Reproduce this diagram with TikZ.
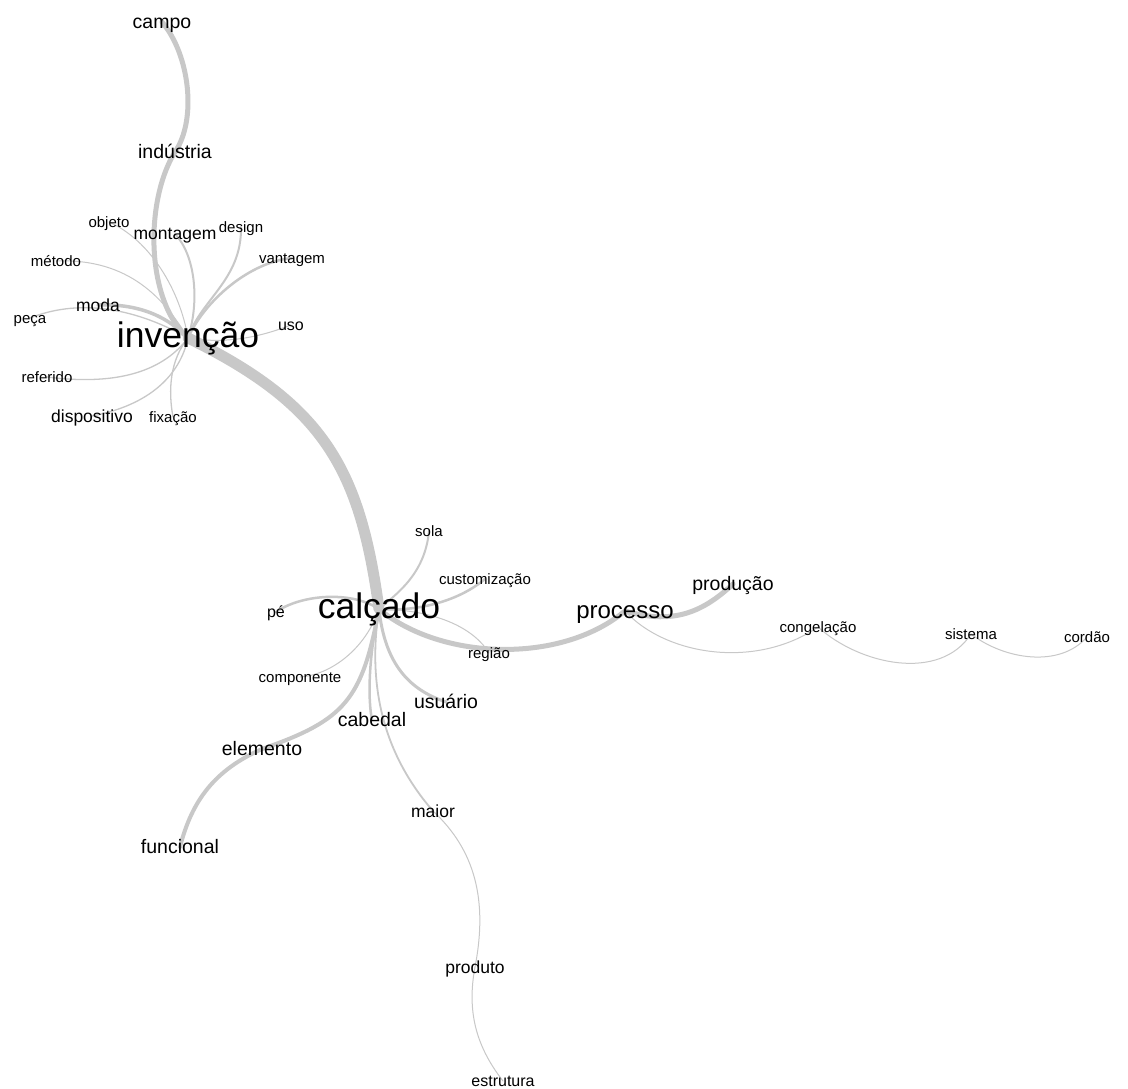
\documentclass[tikz,border=0pt]{standalone}
\usepackage{fontspec}
\setmainfont{Liberation Sans}
\definecolor{edgegray}{RGB}{200,200,200}
\pgfdeclarelayer{bg}
\pgfsetlayers{bg,main}
\begin{document}
\begin{tikzpicture}[x=1pt,y=-1pt,
  lbl/.style={inner sep=0pt,text depth=0pt,text=black},
  sA/.style={lbl,font=\fontsize{15}{18}\selectfont,text height=10.5pt},
  sB/.style={lbl,font=\fontsize{16}{19}\selectfont,text height=11pt},
  sC/.style={lbl,font=\fontsize{17.5}{20}\selectfont,text height=12pt},
  sD/.style={lbl,font=\fontsize{19.5}{22}\selectfont,text height=13pt},
  sE/.style={lbl,font=\fontsize{24}{28}\selectfont,text height=14pt},
  sF/.style={lbl,font=\fontsize{35.5}{40}\selectfont,text height=19pt},
  lnk/.style={draw=edgegray,line cap=round,line join=round}
]
\useasboundingbox (0,0) rectangle (1128,1089);

% nodes
\node[sD] (campo) at (162,22) {campo};
\node[sD] (industria) at (175,152) {indústria};
\node[sA] (objeto) at (109,222) {objeto};
\node[sC] (montagem) at (175,234) {montagem};
\node[sA] (design) at (241,227) {design};
\node[sA] (vantagem) at (292,258) {vantagem};
\node[sA] (metodo) at (56,261) {método};
\node[sC] (moda) at (98,305) {moda};
\node[sA] (peca) at (30,318) {peça};
\node[sF] (invencao) at (188,338) {invenção};
\node[sB] (uso) at (291,325) {uso};
\node[sA] (referido) at (47,377) {referido};
\node[sC] (dispositivo) at (92,416) {dispositivo};
\node[sA] (fixacao) at (173,417) {fixação};
\node[sA] (sola) at (429,531) {sola};
\node[sA] (customizacao) at (485,579) {customização};
\node[sB] (pe) at (276,612) {pé};
\node[sF] (calcado) at (379,609) {calçado};
\node[sE] (processo) at (625,611) {processo};
\node[sD] (producao) at (733,584) {produção};
\node[sA] (regiao) at (489,653) {região};
\node[sA] (congelacao) at (818,627) {congelação};
\node[sA] (sistema) at (971,634) {sistema};
\node[sA] (cordao) at (1087,637) {cordão};
\node[sA] (componente) at (300,677) {componente};
\node[sD] (usuario) at (446,702) {usuário};
\node[sD] (cabedal) at (372,720) {cabedal};
\node[sD] (elemento) at (262,749) {elemento};
\node[sC] (maior) at (433,811) {maior};
\node[sD] (funcional) at (180,847) {funcional};
\node[sC] (produto) at (475,967) {produto};
\node[sB] (estrutura) at (503,1081) {estrutura};

\begin{pgfonlayer}{bg}
\fill[white] (0,0) rectangle (1128,1089);
% invencao cluster
\draw[lnk,line width=5pt] (campo.center) .. controls (190,55) and (197,120) .. (industria.center);
\draw[lnk,line width=5pt] (industria.center) .. controls (145,200) and (145,300) .. (invencao.center);
\draw[lnk,line width=11pt] (invencao.center) .. controls (325,405) and (360,470) .. (calcado.center);
\draw[lnk,line width=1pt] (objeto.center) .. controls (150,240) and (180,290) .. (invencao.center);
\draw[lnk,line width=2pt] (montagem.center) .. controls (195,255) and (200,300) .. (invencao.center);
\draw[lnk,line width=2pt] (design.center) .. controls (242,280) and (200,300) .. (invencao.center);
\draw[lnk,line width=2.5pt] (vantagem.center) .. controls (250,262) and (205,300) .. (invencao.center);
\draw[lnk,line width=1pt] (metodo.center) .. controls (130,258) and (165,300) .. (invencao.center);
\draw[lnk,line width=3.5pt] (moda.center) .. controls (150,303) and (175,325) .. (invencao.center);
\draw[lnk,line width=1.3pt] (peca.center) .. controls (75,300) and (130,305) .. (invencao.center);
\draw[lnk,line width=1pt] (uso.center) .. controls (265,335) and (230,345) .. (invencao.center);
\draw[lnk,line width=1.3pt] (referido.center) .. controls (110,385) and (160,375) .. (invencao.center);
\draw[lnk,line width=1.3pt] (dispositivo.center) .. controls (150,405) and (180,375) .. (invencao.center);
\draw[lnk,line width=1.3pt] (fixacao.center) .. controls (168,390) and (170,360) .. (invencao.center);
% calcado cluster
\draw[lnk,line width=2pt] (sola.center) .. controls (425,575) and (395,595) .. (calcado.center);
\draw[lnk,line width=2.5pt] (customizacao.center) .. controls (460,600) and (420,612) .. (calcado.center);
\draw[lnk,line width=2.5pt] (pe.center) .. controls (300,595) and (350,590) .. (calcado.center);
\draw[lnk,line width=1pt] (calcado.center) .. controls (440,610) and (475,630) .. (regiao.center);
\draw[lnk,line width=5pt] (calcado.center) .. controls (440,660) and (560,665) .. (processo.center);
\draw[lnk,line width=5pt] (processo.center) .. controls (670,624) and (700,615) .. (producao.center);
\draw[lnk,line width=1pt] (processo.center) .. controls (665,655) and (755,670) .. (congelacao.center);
\draw[lnk,line width=1pt] (congelacao.center) .. controls (860,665) and (940,682) .. (sistema.center);
\draw[lnk,line width=1pt] (sistema.center) .. controls (1005,660) and (1060,668) .. (cordao.center);
\draw[lnk,line width=1pt] (calcado.center) .. controls (365,650) and (330,675) .. (componente.center);
\draw[lnk,line width=3pt] (calcado.center) .. controls (385,665) and (410,690) .. (usuario.center);
\draw[lnk,line width=2.5pt] (calcado.center) .. controls (368,660) and (368,700) .. (cabedal.center);
\draw[lnk,line width=4pt] (calcado.center) .. controls (362,700) and (345,720) .. (elemento.center);
\draw[lnk,line width=4pt] (elemento.center) .. controls (215,770) and (192,800) .. (funcional.center);
\draw[lnk,line width=1.8pt] (calcado.center) .. controls (368,680) and (380,750) .. (maior.center);
\draw[lnk,line width=1pt] (maior.center) .. controls (475,850) and (488,900) .. (produto.center);
\draw[lnk,line width=1pt] (produto.center) .. controls (467,1010) and (475,1045) .. (estrutura.center);
\end{pgfonlayer}
\end{tikzpicture}
\end{document}
